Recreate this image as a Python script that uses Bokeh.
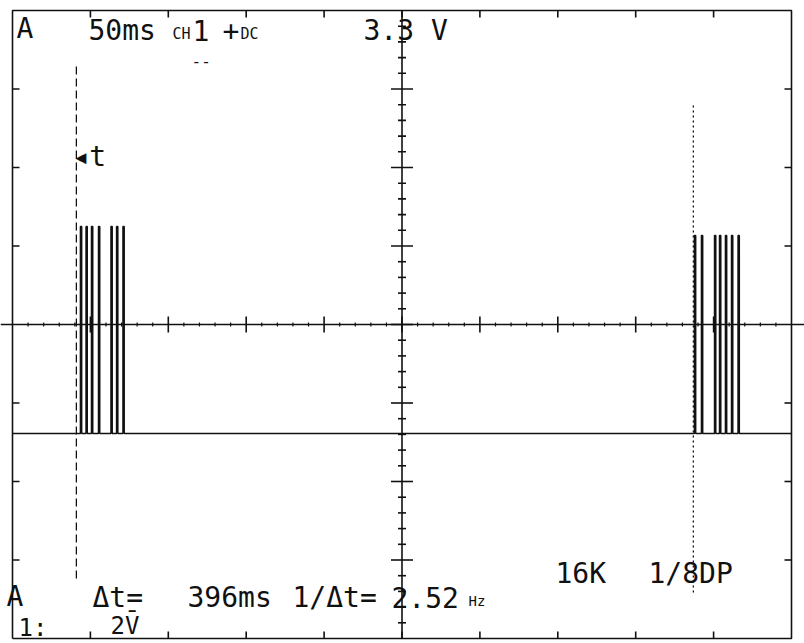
from bokeh.plotting import figure
from bokeh.models import Range1d
from bokeh.embed import file_html
from bokeh.resources import INLINE
from bokeh.core.properties import value

# ---------------- data ----------------
time_per_div_ms = 50
volts_per_div = 2
n_hdiv = 10
n_vdiv = 8
burst1_ms = [43.6, 47.2, 50.7, 55.2, 63.2, 66.8, 70.9]
burst2_ms = [437.7, 442.2, 450.6, 453.8, 457.6, 461.5, 465.7]
burst1_high_v = 2.5
burst2_high_v = 2.27
baseline_v = -2.78
pulse_width_ms = 0.8
cursor1_ms = 41
cursor2_ms = 437
cursor1_span_v = [-6.47, 6.6]
cursor2_span_v = [-6.83, 5.58]

# ---------------- layout ----------------
W, H = 804, 643
FL, FR, FT, FB = 12, 791, 10, 638
t_span = time_per_div_ms * n_hdiv
v_half = volts_per_div * n_vdiv / 2
ms_per_px = t_span / (FR - FL)
v_per_px = 2 * v_half / (FB - FT)
x0 = -FL * ms_per_px
x1 = t_span + (W - FR) * ms_per_px
y0 = -v_half - (H - FB) * v_per_px
y1 = v_half + FT * v_per_px


def at(xp, yp):
    return x0 + xp * ms_per_px, y1 - yp * v_per_px


p = figure(width=W, height=H, x_range=Range1d(x0, x1), y_range=Range1d(y0, y1),
           output_backend="svg", toolbar_location=None, min_border=0,
           x_axis_type=None, y_axis_type=None)
p.grid.visible = False
p.outline_line_color = None
p.background_fill_color = "white"
p.border_fill_color = "white"

INK = "#111111"
LW = 1.6

# frame
p.line([0, t_span, t_span, 0, 0], [-v_half, -v_half, v_half, v_half, -v_half],
       line_color=INK, line_width=LW)

h_major = [i * time_per_div_ms for i in range(1, n_hdiv)]
v_major = [(i - n_vdiv // 2) * volts_per_div for i in range(1, n_vdiv) if i != n_vdiv // 2]

# border ticks
tk = 7
p.segment(x0=h_major, y0=[v_half] * len(h_major), x1=h_major,
          y1=[v_half - tk * v_per_px] * len(h_major), line_color=INK, line_width=LW)
p.segment(x0=h_major, y0=[-v_half] * len(h_major), x1=h_major,
          y1=[-v_half + tk * v_per_px] * len(h_major), line_color=INK, line_width=LW)
p.segment(x0=[0] * len(v_major), y0=v_major, x1=[tk * ms_per_px] * len(v_major),
          y1=v_major, line_color=INK, line_width=LW)
p.segment(x0=[t_span] * len(v_major), y0=v_major,
          x1=[t_span - tk * ms_per_px] * len(v_major), y1=v_major,
          line_color=INK, line_width=LW)

# centre axes
tc = t_span / 2
p.line([x0, x1], [0, 0], line_color=INK, line_width=LW)
p.line([tc, tc], [-v_half, v_half], line_color=INK, line_width=LW)

# centre vertical axis ticks
vmaj_all = [(i - n_vdiv // 2) * volts_per_div for i in range(1, n_vdiv)]
p.segment(x0=[tc - 11 * ms_per_px] * len(vmaj_all), y0=vmaj_all,
          x1=[tc + 11 * ms_per_px] * len(vmaj_all), y1=vmaj_all,
          line_color=INK, line_width=LW)
v_minor = [(-v_half + k * volts_per_div / 5) for k in range(1, n_vdiv * 5) if k % 5 != 0]
p.segment(x0=[tc - 4 * ms_per_px] * len(v_minor), y0=v_minor,
          x1=[tc + 4 * ms_per_px] * len(v_minor), y1=v_minor,
          line_color=INK, line_width=LW)

# centre horizontal axis ticks
p.segment(x0=h_major, y0=[-8 * v_per_px] * len(h_major), x1=h_major,
          y1=[8 * v_per_px] * len(h_major), line_color=INK, line_width=LW)
h_minor = [k * time_per_div_ms / 5 for k in range(1, n_hdiv * 5) if k % 5 != 0]
p.segment(x0=h_minor, y0=[-2 * v_per_px] * len(h_minor), x1=h_minor,
          y1=[2 * v_per_px] * len(h_minor), line_color=INK, line_width=1.2)

# trace
xs, ys = [0], [baseline_v]
for burst, high in ((burst1_ms, burst1_high_v), (burst2_ms, burst2_high_v)):
    for t in burst:
        xs += [t, t, t + pulse_width_ms, t + pulse_width_ms]
        ys += [baseline_v, high, high, baseline_v]
xs.append(t_span)
ys.append(baseline_v)
p.line(xs, ys, line_color=INK, line_width=1.5)

# cursors
p.line([cursor1_ms, cursor1_ms], cursor1_span_v, line_color=INK, line_width=1.3,
       line_dash="8 4")
p.line([cursor2_ms, cursor2_ms], cursor2_span_v, line_color=INK, line_width=1.3,
       line_dash="2 3")

# texts
MONO = "DejaVu Sans Mono"
texts = [
    ("A", 16, 28, 28),
    ("50ms", 88, 30, 28),
    ("CH", 172, 33, 15),
    ("1", 192, 30, 28),
    ("+", 222, 30, 28),
    ("DC", 240, 33, 15),
    ("3.3 V", 363, 30, 28),
    ("--", 191, 60, 16),
    ("\u25c2t", 72, 156, 28),
    ("\u0394t=", 92, 597, 28),
    ("396ms", 187, 597, 28),
    ("1/\u0394t=", 292, 597, 28),
    ("2.52", 391, 597, 28),
    ("Hz", 468, 600, 14),
    ("16K", 555, 573, 28),
    ("1/8DP", 648, 573, 28),
    ("A", 6, 596, 28),
    ("1:", 18, 627, 24),
    ("2V\u0304", 110, 625, 24),
]
for s, xp, yp, fs in texts:
    tx, ty = at(xp, yp)
    p.text(x=[tx], y=[ty], text=[s], text_font=value(MONO),
           text_font_size=f"{fs}px", text_color=INK, text_align="left",
           text_baseline="middle")

open("out.html", "w").write(file_html(p, INLINE))
